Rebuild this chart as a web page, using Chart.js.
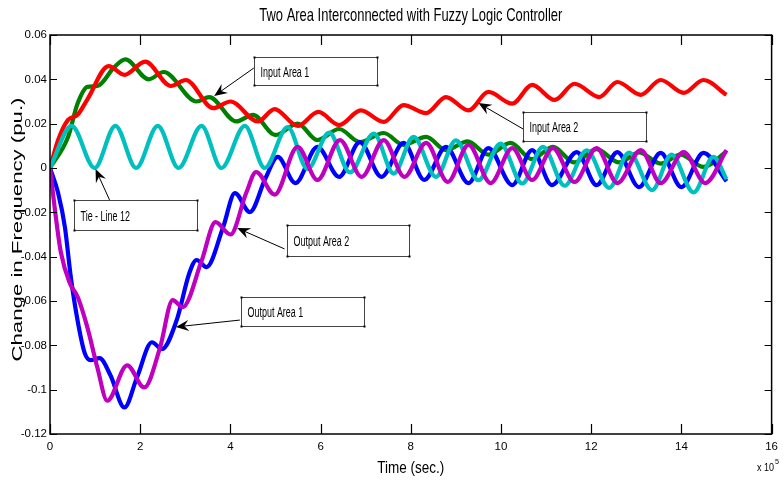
<!DOCTYPE html>
<html><head><meta charset="utf-8">
<script src="https://cdn.jsdelivr.net/npm/chart.js@4.4.0/dist/chart.umd.min.js"></script>
<style>html,body{margin:0;padding:0;background:#fff;}#wrap{width:784px;height:484px;}</style>
</head><body><div id="wrap"><canvas id="c" width="784" height="484"></canvas></div>
<script>
// ---------- data (x in units of 1e5 s) ----------
const titleText = 'Two Area Interconnected with Fuzzy Logic Controller';
const xAxisTitle = 'Time (sec.)';
const yAxisTitle = 'Change in Frequency (pu.)';
const xTickValues = [0, 2, 4, 6, 8, 10, 12, 14, 16];
const yTickValues = [-0.12, -0.1, -0.08, -0.06, -0.04, -0.02, 0, 0.02, 0.04, 0.06];

const inputArea1 = [ // green
  [0,0],[0.40,0.014],[0.61,0.029],[0.83,0.0366],[1.05,0.037],[1.43,0.0456],[1.67,0.049],
  [2.19,0.040],[2.52,0.0433],[3.25,0.030],[3.53,0.032],[4.13,0.021],[4.50,0.024],[5.00,0.0149],
  [5.49,0.020],[5.93,0.0126],[6.41,0.0176],[6.87,0.0117],[7.40,0.0158],[7.84,0.0104],[8.34,0.014],
  [8.78,0.0081],[9.26,0.012],[9.72,0.006],[10.21,0.0113],[10.69,0.004],[11.15,0.0095],[11.63,0.0025],
  [12.12,0.0085],[12.62,0.0025],[13.06,0.007],[13.54,0.002],[13.98,0.006],[14.49,0.0005],[15,0.0075]
];
const inputArea2 = [ // red
  [0,0],[0.18,0.0126],[0.40,0.0217],[0.61,0.024],[0.83,0.031],[1.30,0.046],[1.65,0.042],[2.11,0.048],
  [2.68,0.037],[3.01,0.0397],[3.62,0.027],[4.00,0.030],[4.61,0.021],[4.98,0.0266],[5.49,0.019],
  [5.95,0.0253],[6.41,0.0194],[6.89,0.026],[7.40,0.0208],[7.84,0.0284],[8.34,0.0248],[8.78,0.032],
  [9.28,0.026],[9.72,0.0343],[10.25,0.029],[10.69,0.0375],[11.19,0.0307],[11.63,0.038],[12.18,0.032],
  [12.58,0.0388],[13.10,0.033],[13.54,0.0397],[14.05,0.0339],[14.49,0.0397],[15,0.033]
];
const tieLine12 = [ // cyan
  [0,0],[0.48,0.019],[0.99,0],[1.45,0.019],[1.91,0],[2.39,0.019],[2.85,0],[3.36,0.019],[3.80,0],
  [4.32,0.019],[4.76,0],[5.27,0.0185],[5.71,-0.0005],[6.19,0.016],[6.65,-0.002],[7.18,0.0155],
  [7.62,-0.0025],[8.06,0.014],[8.56,-0.004],[9.00,0.0125],[9.50,-0.0055],[9.99,0.011],[10.47,-0.007],
  [10.93,0.0095],[11.41,-0.008],[11.90,0.008],[12.40,-0.009],[12.84,0.007],[13.35,-0.010],[13.78,0.006],
  [14.27,-0.011],[14.71,0.005],[15,-0.005]
];
const outputArea1 = [ // blue
  [0,0],[0.18,-0.0113],[0.33,-0.0266],[0.46,-0.049],[0.61,-0.0686],[0.77,-0.0835],[0.90,-0.0867],
  [1.10,-0.0858],[1.34,-0.0935],[1.65,-0.108],[1.93,-0.0944],[2.26,-0.0786],[2.48,-0.0817],[2.81,-0.0686],
  [3.09,-0.0474],[3.25,-0.0415],[3.47,-0.0447],[3.84,-0.0266],[4.10,-0.0113],[4.43,-0.0199],[4.78,-0.0045],
  [5.05,0.005],[5.44,-0.0068],[5.93,0.0095],[6.41,-0.004],[6.87,0.0117],[7.35,-0.004],[7.84,0.0113],
  [8.30,-0.0054],[8.78,0.0095],[9.28,-0.0068],[9.72,0.009],[10.25,-0.0077],[10.69,0.0081],[11.13,-0.0077],
  [11.68,0.0072],[12.12,-0.0077],[12.58,0.0072],[13.06,-0.0086],[13.54,0.0068],[14.00,-0.0086],
  [14.49,0.0068],[15,-0.006]
];
const outputArea2 = [ // magenta
  [0,0],[0.11,-0.019],[0.24,-0.038],[0.44,-0.052],[0.61,-0.058],[0.83,-0.072],[1.05,-0.090],[1.27,-0.105],
  [1.71,-0.089],[2.09,-0.099],[2.44,-0.081],[2.72,-0.0596],[2.94,-0.0628],[3.36,-0.042],[3.67,-0.0244],
  [4.00,-0.030],[4.35,-0.0113],[4.57,-0.0018],[4.98,-0.012],[5.49,0.0095],[5.93,-0.0054],[6.43,0.0126],
  [6.91,-0.004],[7.40,0.0126],[7.86,-0.004],[8.34,0.0113],[8.82,-0.0063],[9.28,0.0104],[9.77,-0.0068],
  [10.25,0.009],[10.69,-0.0054],[11.15,0.009],[11.63,-0.0063],[12.12,0.009],[12.58,-0.0068],[13.10,0.0081],
  [13.54,-0.0068],[14.05,0.0072],[14.53,-0.0068],[15,0.0081]
];

// annotation text boxes (anchored in data units)
const notes = [
  {text:'Input Area 1',  box:[4.52,0.0501,7.24,0.0374],   from:[4.52,0.0451],  tip:[3.64,0.0325]},
  {text:'Input Area 2',  box:[10.49,0.0253,13.21,0.0120], from:[10.49,0.0176], tip:[9.50,0.0293]},
  {text:'Tie - Line 12', box:[0.527,-0.0144,3.25,-0.028], from:[1.32,-0.0144], tip:[1.01,-0.0005]},
  {text:'Output Area 2', box:[5.25,-0.0257,7.97,-0.0397], from:[5.20,-0.0365], tip:[4.15,-0.0271]},
  {text:'Output Area 1', box:[4.24,-0.0582,6.96,-0.0713], from:[4.21,-0.0686], tip:[2.79,-0.0717]}
];

// ---------- helpers ----------
const toXY = arr => arr.map(p => ({x:p[0], y:p[1]}));
const fmtY = v => String(Math.round(v*100)/100);
function mk(label, arr, color, order){
  return {label, data: toXY(arr), borderColor: color, backgroundColor: color, borderWidth: 4.2,
    showLine: true, pointRadius: 0, pointHoverRadius: 0, fill: false,
    cubicInterpolationMode: 'monotone', order};
}
const FONT = '"Liberation Sans", Arial, sans-serif';
// draws text horizontally squeezed/stretched: either to a target width, or by a factor (sx)
function scaledText(ctx, text, x, y, size, opt, align, rot){
  ctx.save();
  ctx.font = size + 'px ' + FONT;
  const w = ctx.measureText(text).width;
  const sx = opt.w ? opt.w / w : opt.sx;
  ctx.translate(x, y);
  if (rot) ctx.rotate(rot);
  ctx.scale(sx, 1);
  ctx.textAlign = align; ctx.textBaseline = 'alphabetic';
  ctx.fillStyle = '#000';
  ctx.fillText(text, 0, 0);
  ctx.restore();
}

const decor = {
  id: 'decor',
  afterDatasetsDraw(chart){
    const {ctx, chartArea:a, scales:{x, y}} = chart;
    ctx.save();
    // frame
    ctx.strokeStyle = '#000'; ctx.lineWidth = 1.5;
    ctx.strokeRect(a.left, a.top, a.right - a.left, a.bottom - a.top);
    // inward ticks
    ctx.lineWidth = 1.2;
    ctx.beginPath();
    xTickValues.forEach(v => {
      const px = Math.round(x.getPixelForValue(v)) + 0.5;
      ctx.moveTo(px, a.bottom); ctx.lineTo(px, a.bottom - 10);
      ctx.moveTo(px, a.top); ctx.lineTo(px, a.top + 10);
    });
    yTickValues.forEach(v => {
      const py = Math.round(y.getPixelForValue(v)) + 0.5;
      ctx.moveTo(a.left, py); ctx.lineTo(a.left + 7, py);
      ctx.moveTo(a.right, py); ctx.lineTo(a.right - 7, py);
    });
    ctx.stroke();

    // annotations
    notes.forEach(n => {
      const x0 = Math.round(x.getPixelForValue(n.box[0])) + 0.5;
      const y0 = Math.round(y.getPixelForValue(n.box[1])) + 0.5;
      const x1 = Math.round(x.getPixelForValue(n.box[2])) + 0.5;
      const y1 = Math.round(y.getPixelForValue(n.box[3])) + 0.5;
      ctx.fillStyle = '#fff';
      ctx.fillRect(x0, y0, x1 - x0, y1 - y0);
      ctx.strokeStyle = '#444'; ctx.lineWidth = 1;
      ctx.strokeRect(x0, y0, x1 - x0, y1 - y0);
      ctx.fillStyle = '#000';
      [[x0,y0],[x1,y0],[x0,y1],[x1,y1]].forEach(c => ctx.fillRect(c[0]-1, c[1]-1, 2, 2));
      scaledText(ctx, n.text, x0 + 6, (y0 + y1)/2 + 5, 14, {sx: 0.64}, 'left');
      // arrow
      const fx = x.getPixelForValue(n.from[0]), fy = y.getPixelForValue(n.from[1]);
      const tx = x.getPixelForValue(n.tip[0]),  ty = y.getPixelForValue(n.tip[1]);
      const ang = Math.atan2(ty - fy, tx - fx);
      const L = 13, W = 5.5;
      ctx.strokeStyle = '#000'; ctx.lineWidth = 1;
      ctx.beginPath(); ctx.moveTo(fx, fy);
      ctx.lineTo(tx - Math.cos(ang)*L*0.6, ty - Math.sin(ang)*L*0.6); ctx.stroke();
      ctx.save(); ctx.translate(tx, ty); ctx.rotate(ang);
      ctx.beginPath(); ctx.moveTo(0,0); ctx.lineTo(-L, -W); ctx.lineTo(-L*0.65, 0); ctx.lineTo(-L, W);
      ctx.closePath(); ctx.fillStyle = '#000'; ctx.fill(); ctx.restore();
    });

    // titles
    const cx = (a.left + a.right) / 2;
    scaledText(ctx, titleText, cx, 21, 19, {w: 303}, 'center');
    scaledText(ctx, xAxisTitle, cx, 473, 17, {w: 67}, 'center');
    scaledText(ctx, yAxisTitle, 22, 229.5, 15.5, {w: 264}, 'center', -Math.PI/2);
    // x 10^5 multiplier
    scaledText(ctx, 'x 10', 757, 471, 11, {w: 17}, 'left');
    scaledText(ctx, '5', 775, 464, 8, {w: 4}, 'left');
    ctx.restore();
  }
};

const tickFont = {family: '"Liberation Sans Narrow", "Arial Narrow", "Liberation Sans", sans-serif', size: 11.5};

new Chart(document.getElementById('c'), {
  type: 'scatter',
  data: { datasets: [
    mk('Input Area 1', inputArea1, '#008000', 5),
    mk('Input Area 2', inputArea2, '#ff0000', 4),
    mk('Output Area 1', outputArea1, '#0000ff', 3),
    mk('Tie - Line 12', tieLine12, '#00bfbf', 2),
    mk('Output Area 2', outputArea2, '#bf00bf', 1)
  ]},
  options: {
    responsive: false, animation: false, devicePixelRatio: 1,
    layout: {padding: {top: 35, right: 5, left: 0, bottom: 0}},
    plugins: {legend: {display: false}, title: {display: false}, tooltip: {enabled: false}},
    scales: {
      x: {type: 'linear', min: 0, max: 16,
        grid: {display: false, drawTicks: false}, border: {display: false},
        afterBuildTicks: s => { s.ticks = xTickValues.map(v => ({value: v})); },
        afterFit: s => { s.height = 50; },
        ticks: {autoSkip: false, maxRotation: 0, padding: 6, color: '#000', font: tickFont,
          callback: v => String(v)}
      },
      y: {type: 'linear', min: -0.12, max: 0.06,
        grid: {display: false, drawTicks: false}, border: {display: false},
        afterBuildTicks: s => { s.ticks = yTickValues.map(v => ({value: v})); },
        afterFit: s => { s.width = 50; },
        ticks: {autoSkip: false, padding: 3, color: '#000', font: tickFont, callback: v => fmtY(v)}
      }
    }
  },
  plugins: [decor]
});
</script></body></html>
